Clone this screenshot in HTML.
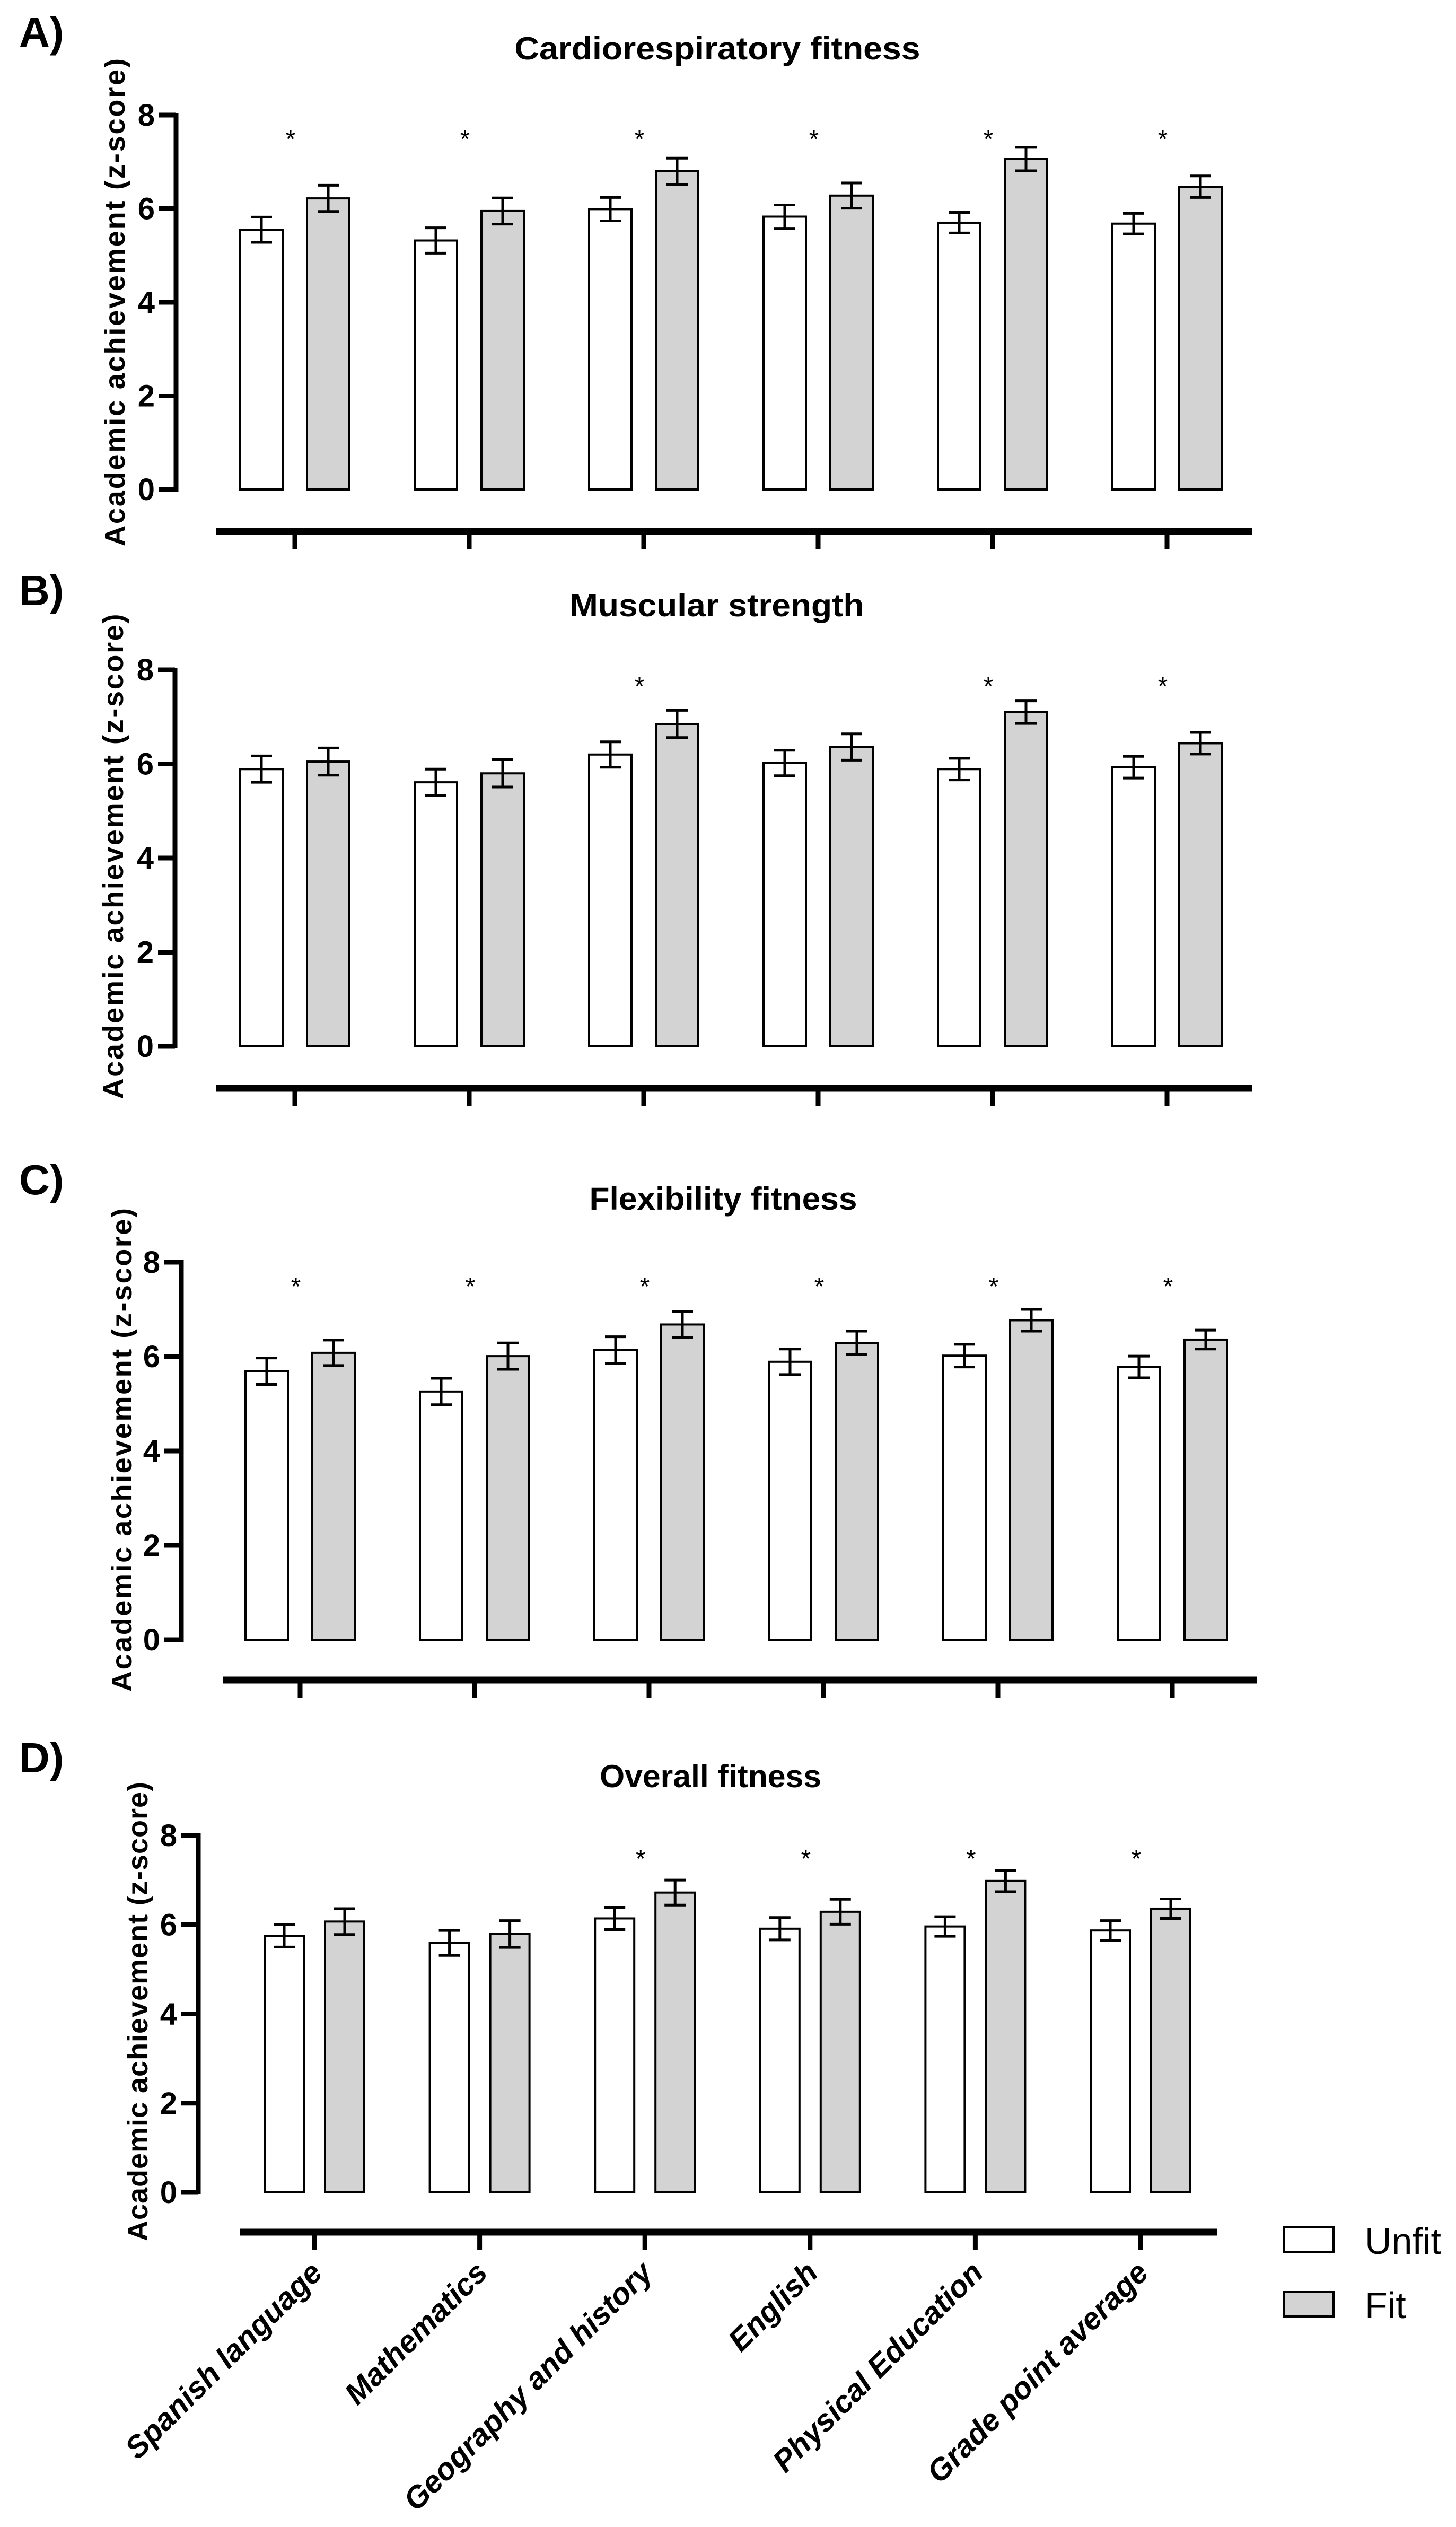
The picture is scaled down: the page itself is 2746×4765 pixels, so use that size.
<!DOCTYPE html>
<html><head><meta charset="utf-8"><style>
html,body{margin:0;padding:0;background:#fff}
svg{display:block}
text{font-family:"Liberation Sans",Arial,sans-serif}
</style></head><body>
<svg id="fig" xmlns="http://www.w3.org/2000/svg" width="2746" height="4765" viewBox="0 0 2746 4765"></svg>
<script>
const categories = ["Spanish language","Mathematics","Geography and history","English","Physical Education","Grade point average"];
const unfitA = [5.55,5.32,5.99,5.83,5.70,5.68];
const fitA   = [6.22,5.95,6.80,6.28,7.06,6.47];
const errUnfitA = [0.27,0.27,0.25,0.25,0.22,0.22];
const errFitA   = [0.28,0.28,0.28,0.27,0.25,0.23];
const sigA = [1,1,1,1,1,1];
const unfitB = [5.89,5.61,6.20,6.02,5.89,5.93];
const fitB   = [6.05,5.80,6.85,6.36,7.10,6.44];
const errUnfitB = [0.28,0.28,0.27,0.27,0.23,0.23];
const errFitB   = [0.29,0.29,0.29,0.28,0.24,0.23];
const sigB = [0,0,1,0,1,1];
const unfitC = [5.69,5.26,6.14,5.89,6.02,5.78];
const fitC   = [6.08,6.01,6.68,6.29,6.77,6.36];
const errUnfitC = [0.28,0.28,0.28,0.27,0.24,0.23];
const errFitC   = [0.27,0.28,0.27,0.25,0.23,0.20];
const sigC = [1,1,1,1,1,1];
const unfitD = [5.75,5.59,6.14,5.91,5.96,5.87];
const fitD   = [6.07,5.79,6.72,6.29,6.98,6.36];
const errUnfitD = [0.25,0.28,0.25,0.25,0.22,0.22];
const errFitD   = [0.29,0.30,0.28,0.28,0.24,0.22];
const sigD = [0,0,1,1,1,1];
const yTicks = [0,2,4,6,8];
const titles = ["Cardiorespiratory fitness","Muscular strength","Flexibility fitness","Overall fitness"];
const letters = ["A)","B)","C)","D)"];

const NS = "http://www.w3.org/2000/svg";
const svg = document.getElementById("fig");
function mk(tag, attrs, parent){
  const e = document.createElementNS(NS, tag);
  for (const k in attrs) e.setAttribute(k, attrs[k]);
  (parent||svg).appendChild(e);
  return e;
}
const panels = [
 {u:unfitA,f:fitA,eu:errUnfitA,ef:errFitA,s:sigA,axX:332,y8:217,y0:923,xl:408,xr:2362,xAxY:1002,x0:556,step:329,starV:7.55,titleX:1353,titleY:112,titleW:765,letY:88,ytX:235,ytC:570,ytL:920},
 {u:unfitB,f:fitB,eu:errUnfitB,ef:errFitB,s:sigB,axX:330,y8:1263,y0:1973,xl:408,xr:2362,xAxY:2052,x0:556,step:329,starV:7.72,titleX:1352,titleY:1162,titleW:555,letY:1141,ytX:232,ytC:1615,ytL:915},
 {u:unfitC,f:fitC,eu:errUnfitC,ef:errFitC,s:sigC,axX:342,y8:2380,y0:3092,xl:420,xr:2370,xAxY:3168,x0:566,step:329,starV:7.55,titleX:1364,titleY:2281,titleW:505,letY:2252,ytX:248,ytC:2734,ytL:912},
 {u:unfitD,f:fitD,eu:errUnfitD,ef:errFitD,s:sigD,axX:374,y8:3461,y0:4134,xl:453,xr:2295,xAxY:4209,x0:593,step:311.6,starV:7.55,titleX:1340,titleY:3370,titleW:418,letY:3342,ytX:278,ytC:3793,ytL:866}
];
panels.forEach((p,pi)=>{
  const g = mk("g",{});
  
  
  const yS = v => p.y0 - (p.y0 - p.y8) * v / 8;
  const xC = i => p.x0 + p.step * i;
  const bw = pi===3 ? 74 : 80;
  const off = pi===3 ? 57 : 63;
  const lt = mk("text",{x:36,y:p.letY,"font-size":80,"font-weight":"bold"},g); lt.textContent = letters[pi];
  
  
  const tt = mk("text",{x:p.titleX,y:p.titleY,"font-size":60,"font-weight":"bold","text-anchor":"middle",textLength:p.titleW,lengthAdjust:"spacingAndGlyphs"},g); tt.textContent = titles[pi];
  
  
  const yt = mk("text",{x:0,y:0,"font-size":54,"font-weight":"bold","text-anchor":"middle",textLength:p.ytL,lengthAdjust:"spacing",transform:`translate(${p.ytX},${p.ytC}) rotate(-90)`},g); yt.textContent = "Academic achievement  (z-score)";
  
  
  const ya = mk("line",{x1:p.axX,x2:p.axX,y1:yS(8)-4,y2:yS(0)+4,stroke:"#000","stroke-width":9},g);
  
  
  yTicks.forEach(t=>{
    const tk = mk("line",{x1:p.axX-32,x2:p.axX,y1:yS(t),y2:yS(t),stroke:"#000","stroke-width":9},g);
    
    
    const tl = mk("text",{x:p.axX-40,y:yS(t)+20,"font-size":58,"font-weight":"bold","text-anchor":"end"},g); tl.textContent = t;
    
    
  });
  const xa = mk("line",{x1:p.xl,x2:p.xr,y1:p.xAxY,y2:p.xAxY,stroke:"#000","stroke-width":13},g);
  
  
  categories.forEach((c,i)=>{
    const tk = mk("line",{x1:xC(i),x2:xC(i),y1:p.xAxY,y2:p.xAxY+34,stroke:"#000","stroke-width":9},g);
    
    
    const series = [[p.u,p.eu,"#ffffff",-off,"unfit"],[p.f,p.ef,"#d3d3d3",off,"fit"]];
    series.forEach(([vals,errs,fill,o,nm])=>{
      const v = vals[i], e = errs[i], cx = xC(i)+o;
      const r = mk("rect",{x:cx-bw/2,y:yS(v),width:bw,height:yS(0)-yS(v),fill:fill,stroke:"#000","stroke-width":4},g);
      
      
      const eg = mk("path",{d:`M${cx},${yS(v+e)}V${yS(v-e)}M${cx-20},${yS(v+e)}H${cx+20}M${cx-20},${yS(v-e)}H${cx+20}`,stroke:"#000","stroke-width":5,fill:"none"},g);
      
      
    });
    if (p.s[i]) {
      const st = mk("text",{x:xC(i)-8,y:yS(p.starV)+22,"font-size":48,"text-anchor":"middle"},g); st.textContent = "*";
      
      
    }
    if (pi===3) {
      const cl = mk("text",{x:0,y:0,"font-size":58,"font-weight":"bold","font-style":"italic","text-anchor":"end",transform:`translate(${xC(i)+18},${p.xAxY+80}) rotate(-45)`},g); cl.textContent = c;
      
      
    }
  });
});
const lg = mk("g",{});


[["Unfit","#ffffff",4200,4250],["Fit","#d3d3d3",4322,4371]].forEach(([t,f,y,b])=>{
  const r = mk("rect",{x:2421,y:y,width:94,height:46,fill:f,stroke:"#000","stroke-width":4},lg);
  
  
  const tx = mk("text",{x:2574,y:b,"font-size":70},lg); tx.textContent = t;
  
  
});
</script>
</body></html>
